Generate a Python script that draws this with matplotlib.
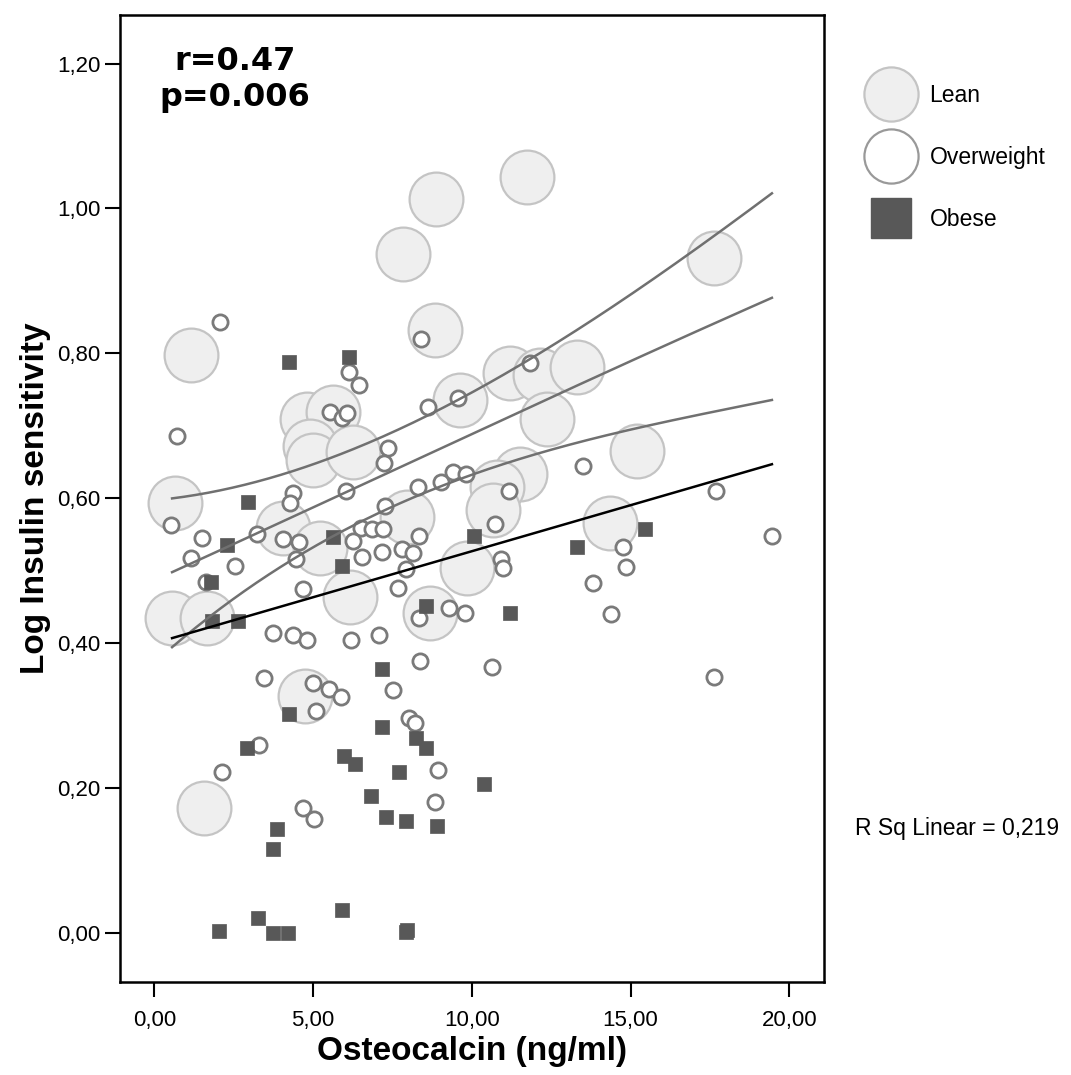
import matplotlib
matplotlib.use("Agg")
import matplotlib.pyplot as plt
import numpy as np
from matplotlib.lines import Line2D

# ---------------- data ----------------
lean_x = [1.16, 8.84, 0.65, 4.81, 5.63, 4.90, 5.00, 6.26, 4.05, 5.22, 7.96, 0.56, 1.66, 6.16,
          8.68, 9.85, 9.63, 11.20, 12.15, 13.31, 12.37, 15.20, 11.52, 10.79, 10.67, 14.35,
          8.87, 7.83, 11.74, 17.63, 4.75, 1.57]
lean_y = [0.798, 0.832, 0.593, 0.710, 0.719, 0.672, 0.653, 0.664, 0.559, 0.531, 0.574, 0.435,
          0.435, 0.464, 0.442, 0.504, 0.736, 0.773, 0.770, 0.781, 0.709, 0.665, 0.634, 0.616,
          0.584, 0.566, 1.013, 0.937, 1.043, 0.932, 0.327, 0.173]

over_x = [2.07, 8.40, 6.13, 6.45, 0.71, 5.53, 5.91, 6.07, 8.62, 9.56, 7.36, 7.24, 4.37, 4.28,
          6.04, 8.30, 9.03, 9.41, 9.82, 0.53, 1.50, 1.16, 3.23, 2.54, 4.05, 4.56, 7.27, 6.51,
          6.86, 7.20, 6.26, 6.54, 7.17, 7.80, 8.15, 8.34, 7.93, 7.68, 4.46, 4.68, 1.63, 9.28,
          9.79, 8.34, 3.74, 4.37, 4.81, 6.19, 7.08, 11.83, 13.50, 11.17, 17.69, 10.73, 14.76,
          19.45, 10.92, 10.98, 14.86, 13.82, 14.38, 3.46, 5.00, 5.50, 5.88, 5.09, 8.37, 7.52,
          8.03, 8.22, 3.30, 2.13, 8.94, 8.84, 4.68, 5.03, 10.64, 17.63]
over_y = [0.843, 0.820, 0.774, 0.756, 0.686, 0.719, 0.711, 0.718, 0.726, 0.738, 0.669, 0.649,
          0.607, 0.594, 0.610, 0.616, 0.622, 0.636, 0.634, 0.563, 0.545, 0.518, 0.551, 0.507,
          0.544, 0.540, 0.589, 0.559, 0.558, 0.558, 0.541, 0.519, 0.526, 0.530, 0.524, 0.548,
          0.502, 0.476, 0.516, 0.475, 0.484, 0.449, 0.442, 0.435, 0.414, 0.411, 0.404, 0.404,
          0.411, 0.787, 0.645, 0.610, 0.610, 0.565, 0.533, 0.548, 0.516, 0.504, 0.505, 0.483,
          0.440, 0.352, 0.345, 0.337, 0.326, 0.306, 0.375, 0.335, 0.297, 0.290, 0.259, 0.222,
          0.225, 0.181, 0.173, 0.157, 0.367, 0.353]

obese_x = [4.24, 6.13, 2.95, 2.29, 1.79, 1.82, 2.64, 5.63, 5.91, 8.56, 10.07, 13.31, 15.45,
           11.20, 7.17, 4.24, 7.17, 2.92, 8.24, 8.56, 5.97, 6.32, 7.71, 6.82, 7.30, 7.93, 8.90,
           3.86, 3.74, 5.91, 3.26, 2.04, 3.74, 4.21, 7.93, 7.96, 10.38]
obese_y = [0.788, 0.795, 0.595, 0.536, 0.484, 0.431, 0.431, 0.547, 0.507, 0.451, 0.548, 0.533,
           0.558, 0.442, 0.364, 0.302, 0.284, 0.255, 0.269, 0.255, 0.244, 0.233, 0.222, 0.189,
           0.160, 0.155, 0.148, 0.144, 0.116, 0.032, 0.021, 0.003, 0.000, 0.000, 0.001, 0.004,
           0.206]

# fit lines
fit_top_x = [0.56, 3.11, 5.63, 7.33, 9.94, 11.83, 13.72, 16.78, 19.45]
fit_top_y = [0.598, 0.625, 0.657, 0.687, 0.745, 0.787, 0.846, 0.939, 1.019]
fit_mid_x = [0.56, 3.23, 6.04, 9.94, 13.09, 16.02, 19.45]
fit_mid_y = [0.498, 0.551, 0.610, 0.687, 0.749, 0.812, 0.876]
fit_low_x = [0.56, 1.82, 4.46, 7.27, 9.94, 13.09, 16.24, 19.45]
fit_low_y = [0.400, 0.432, 0.516, 0.589, 0.634, 0.669, 0.708, 0.736]
fit_lin_x = [0.56, 19.45]
fit_lin_y = [0.407, 0.647]

x_ticks = [0, 5, 10, 15, 20]
x_ticklabels = ["0,00", "5,00", "10,00", "15,00", "20,00"]
y_ticks = [0.0, 0.2, 0.4, 0.6, 0.8, 1.0, 1.2]
y_ticklabels = ["0,00", "0,20", "0,40", "0,60", "0,80", "1,00", "1,20"]

legend_labels = ["Lean", "Overweight", "Obese"]
r_text = "r=0.47\np=0.006"
rsq_text = "R Sq Linear = 0,219"

# ---------------- style ----------------
BASE = ["Liberation Sans", "DejaVu Sans"]
plt.rcParams["font.family"] = BASE

lean_face, lean_edge = "#efefef", "#c4c4c4"
over_edge = "#7a7a7a"
obese_col = "#585858"
line_col = "#707070"

fig = plt.figure(figsize=(10.71, 10.75), dpi=100)
ax = fig.add_axes([120 / 1071, 1 - 982 / 1075, 704 / 1071, 967 / 1075])

ax.scatter(lean_x, lean_y, s=1500, facecolor=lean_face, edgecolor=lean_edge,
           linewidth=1.6, zorder=2)
ax.scatter(over_x, over_y, s=120, facecolor="white", edgecolor=over_edge,
           linewidth=2.0, zorder=3)
ax.scatter(obese_x, obese_y, s=95, marker="s", facecolor=obese_col, edgecolor=obese_col,
           linewidth=0.5, zorder=4)


def smooth(xs, ys, deg):
    """Draw a smooth regression-style curve through the read points."""
    c = np.polyfit(xs, ys, deg)
    xx = np.linspace(xs[0], xs[-1], 200)
    return xx, np.polyval(c, xx)


for xs, ys in [(fit_top_x, fit_top_y), (fit_mid_x, fit_mid_y), (fit_low_x, fit_low_y)]:
    xx, yy = smooth(xs, ys, 3)
    ax.plot(xx, yy, color=line_col, lw=1.8, zorder=5)
ax.plot(fit_lin_x, fit_lin_y, color="black", lw=1.8, zorder=6)

ax.set_xlim(-1.08, 21.09)
ax.set_ylim(-0.0676, 1.267)
ax.set_xticks(x_ticks)
ax.set_xticklabels(x_ticklabels)
ax.set_yticks(y_ticks)
ax.set_yticklabels(y_ticklabels)
ax.tick_params(axis="both", direction="out", length=11, width=1.5, labelsize=16,
               colors="black")
ax.tick_params(axis="x", pad=9)
ax.tick_params(axis="y", pad=3)
for sp in ax.spines.values():
    sp.set_linewidth(1.8)

ax.set_xlabel("Osteocalcin (ng/ml)", fontsize=24, fontweight="bold")
ax.xaxis.set_label_coords(0.5, -0.056)
ax.set_ylabel("Log Insulin sensitivity", fontsize=24, fontweight="bold")
ax.yaxis.set_label_coords(-0.098, 0.5)

ax.text(0.163, 0.968, r_text, transform=ax.transAxes, ha="center", va="top",
        fontsize=23, fontweight="heavy", family=["DejaVu Sans"], linespacing=1.2)

fig.text(855 / 1071, 1 - 828 / 1075, rsq_text, ha="left", va="center", fontsize=16.5)

handles = [
    Line2D([], [], ls="none", marker="o", markersize=39, markerfacecolor=lean_face,
           markeredgecolor=lean_edge, markeredgewidth=1.6),
    Line2D([], [], ls="none", marker="o", markersize=39, markerfacecolor="white",
           markeredgecolor="#999999", markeredgewidth=1.6),
    Line2D([], [], ls="none", marker="s", markersize=29, markerfacecolor=obese_col,
           markeredgecolor=obese_col),
]
leg = fig.legend(handles, legend_labels, loc="upper left",
                 bbox_to_anchor=(862 / 1071, 1 - 84 / 1075), frameon=False,
                 fontsize=16.5, borderpad=0, handlelength=2.5, handletextpad=0.45,
                 labelspacing=1.7, borderaxespad=0)

fig.savefig("out.png", dpi=100, facecolor="white")
